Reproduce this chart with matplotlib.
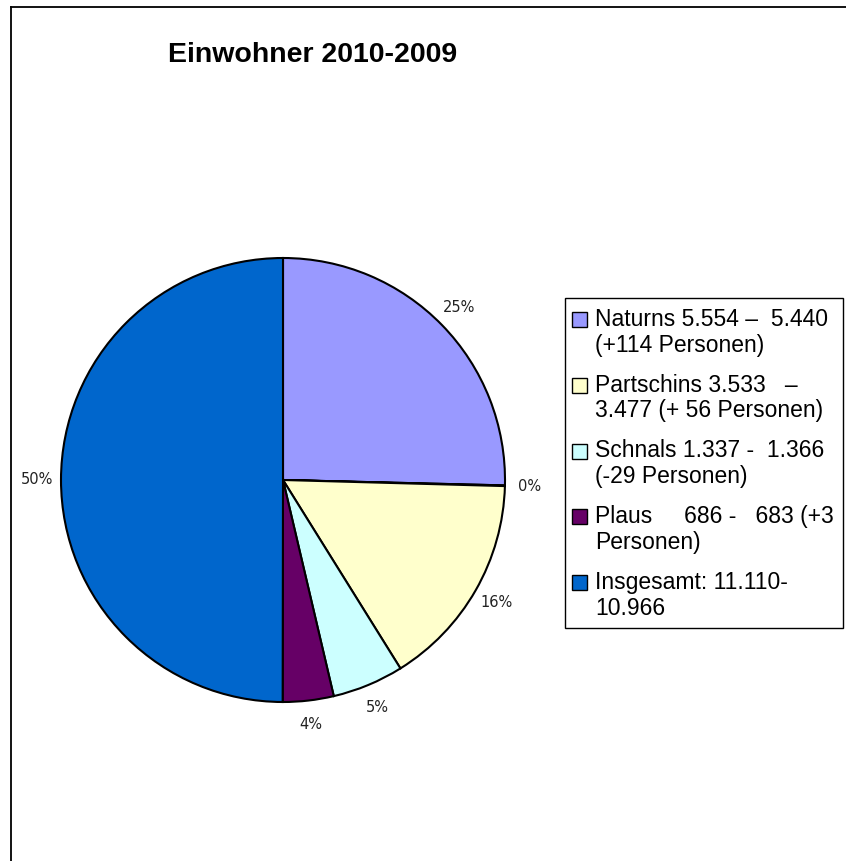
import matplotlib.pyplot as plt
from matplotlib.lines import Line2D
from matplotlib.patches import Rectangle

# data (percent of the pie)
names = ["Naturns 5.554 –  5.440\n(+114 Personen)",
         "",
         "Partschins 3.533   –\n3.477 (+ 56 Personen)",
         "Schnals 1.337 -  1.366\n(-29 Personen)",
         "Plaus     686 -   683 (+3\nPersonen)",
         "Insgesamt: 11.110-\n10.966"]
shares = [25.4, 0.05, 15.7, 5.2, 3.7, 50.0]
colors = ["#9999FF", "#FF8080", "#FFFFCC", "#CCFFFF", "#660066", "#0066CC"]

W, H = 846, 861
fig = plt.figure(figsize=(W / 100, H / 100), dpi=100)


def fx(px):
    return px / W


def fy(py):
    return 1 - py / H


cx, cy, r = 283, 480, 222
ax = fig.add_axes([fx(cx - r), fy(cy + r), 2 * r / W, 2 * r / H])

wedges, texts, autotexts = ax.pie(
    shares, colors=colors, startangle=90, counterclock=False,
    autopct="%.0f%%", pctdistance=1.11,
    wedgeprops=dict(edgecolor="black", linewidth=1.5),
    textprops=dict(fontsize=10.5, family="DejaVu Sans", color="#222222"))
ax.set_xlim(-1, 1)
ax.set_ylim(-1, 1)
ax.set_aspect("equal")
ax.axis("off")

fig.text(fx(313), fy(55), "Einwohner 2010-2009", ha="center", va="center",
         fontsize=20.5, fontweight="bold", family="Liberation Sans")

# legend box, entries without the empty slice
fig.add_artist(Rectangle((fx(565), fy(628)), (843 - 565) / W, (628 - 298) / H,
                         transform=fig.transFigure, facecolor="none",
                         edgecolor="black", linewidth=1.0))
k = 0
for i in range(len(names)):
    if not names[i]:
        continue
    base = 326 + 65.8 * k
    fig.add_artist(Rectangle((fx(572), fy(base + 1)), 15 / W, 15 / H,
                             transform=fig.transFigure, facecolor=colors[i],
                             edgecolor="black", linewidth=1.0))
    # va="baseline" sits on the last line, so go one line down
    fig.text(fx(595), fy(base + 25.7), names[i], ha="left", va="baseline",
             fontsize=16.5, family="Liberation Sans", linespacing=1.16)
    k += 1

# chart area border (left and top only)
fig.add_artist(Line2D([fx(11), fx(11)], [0, fy(7)], color="black", lw=1.3))
fig.add_artist(Line2D([fx(11), 1], [fy(7), fy(7)], color="black", lw=1.3))

fig.savefig("out.png", dpi=100)
